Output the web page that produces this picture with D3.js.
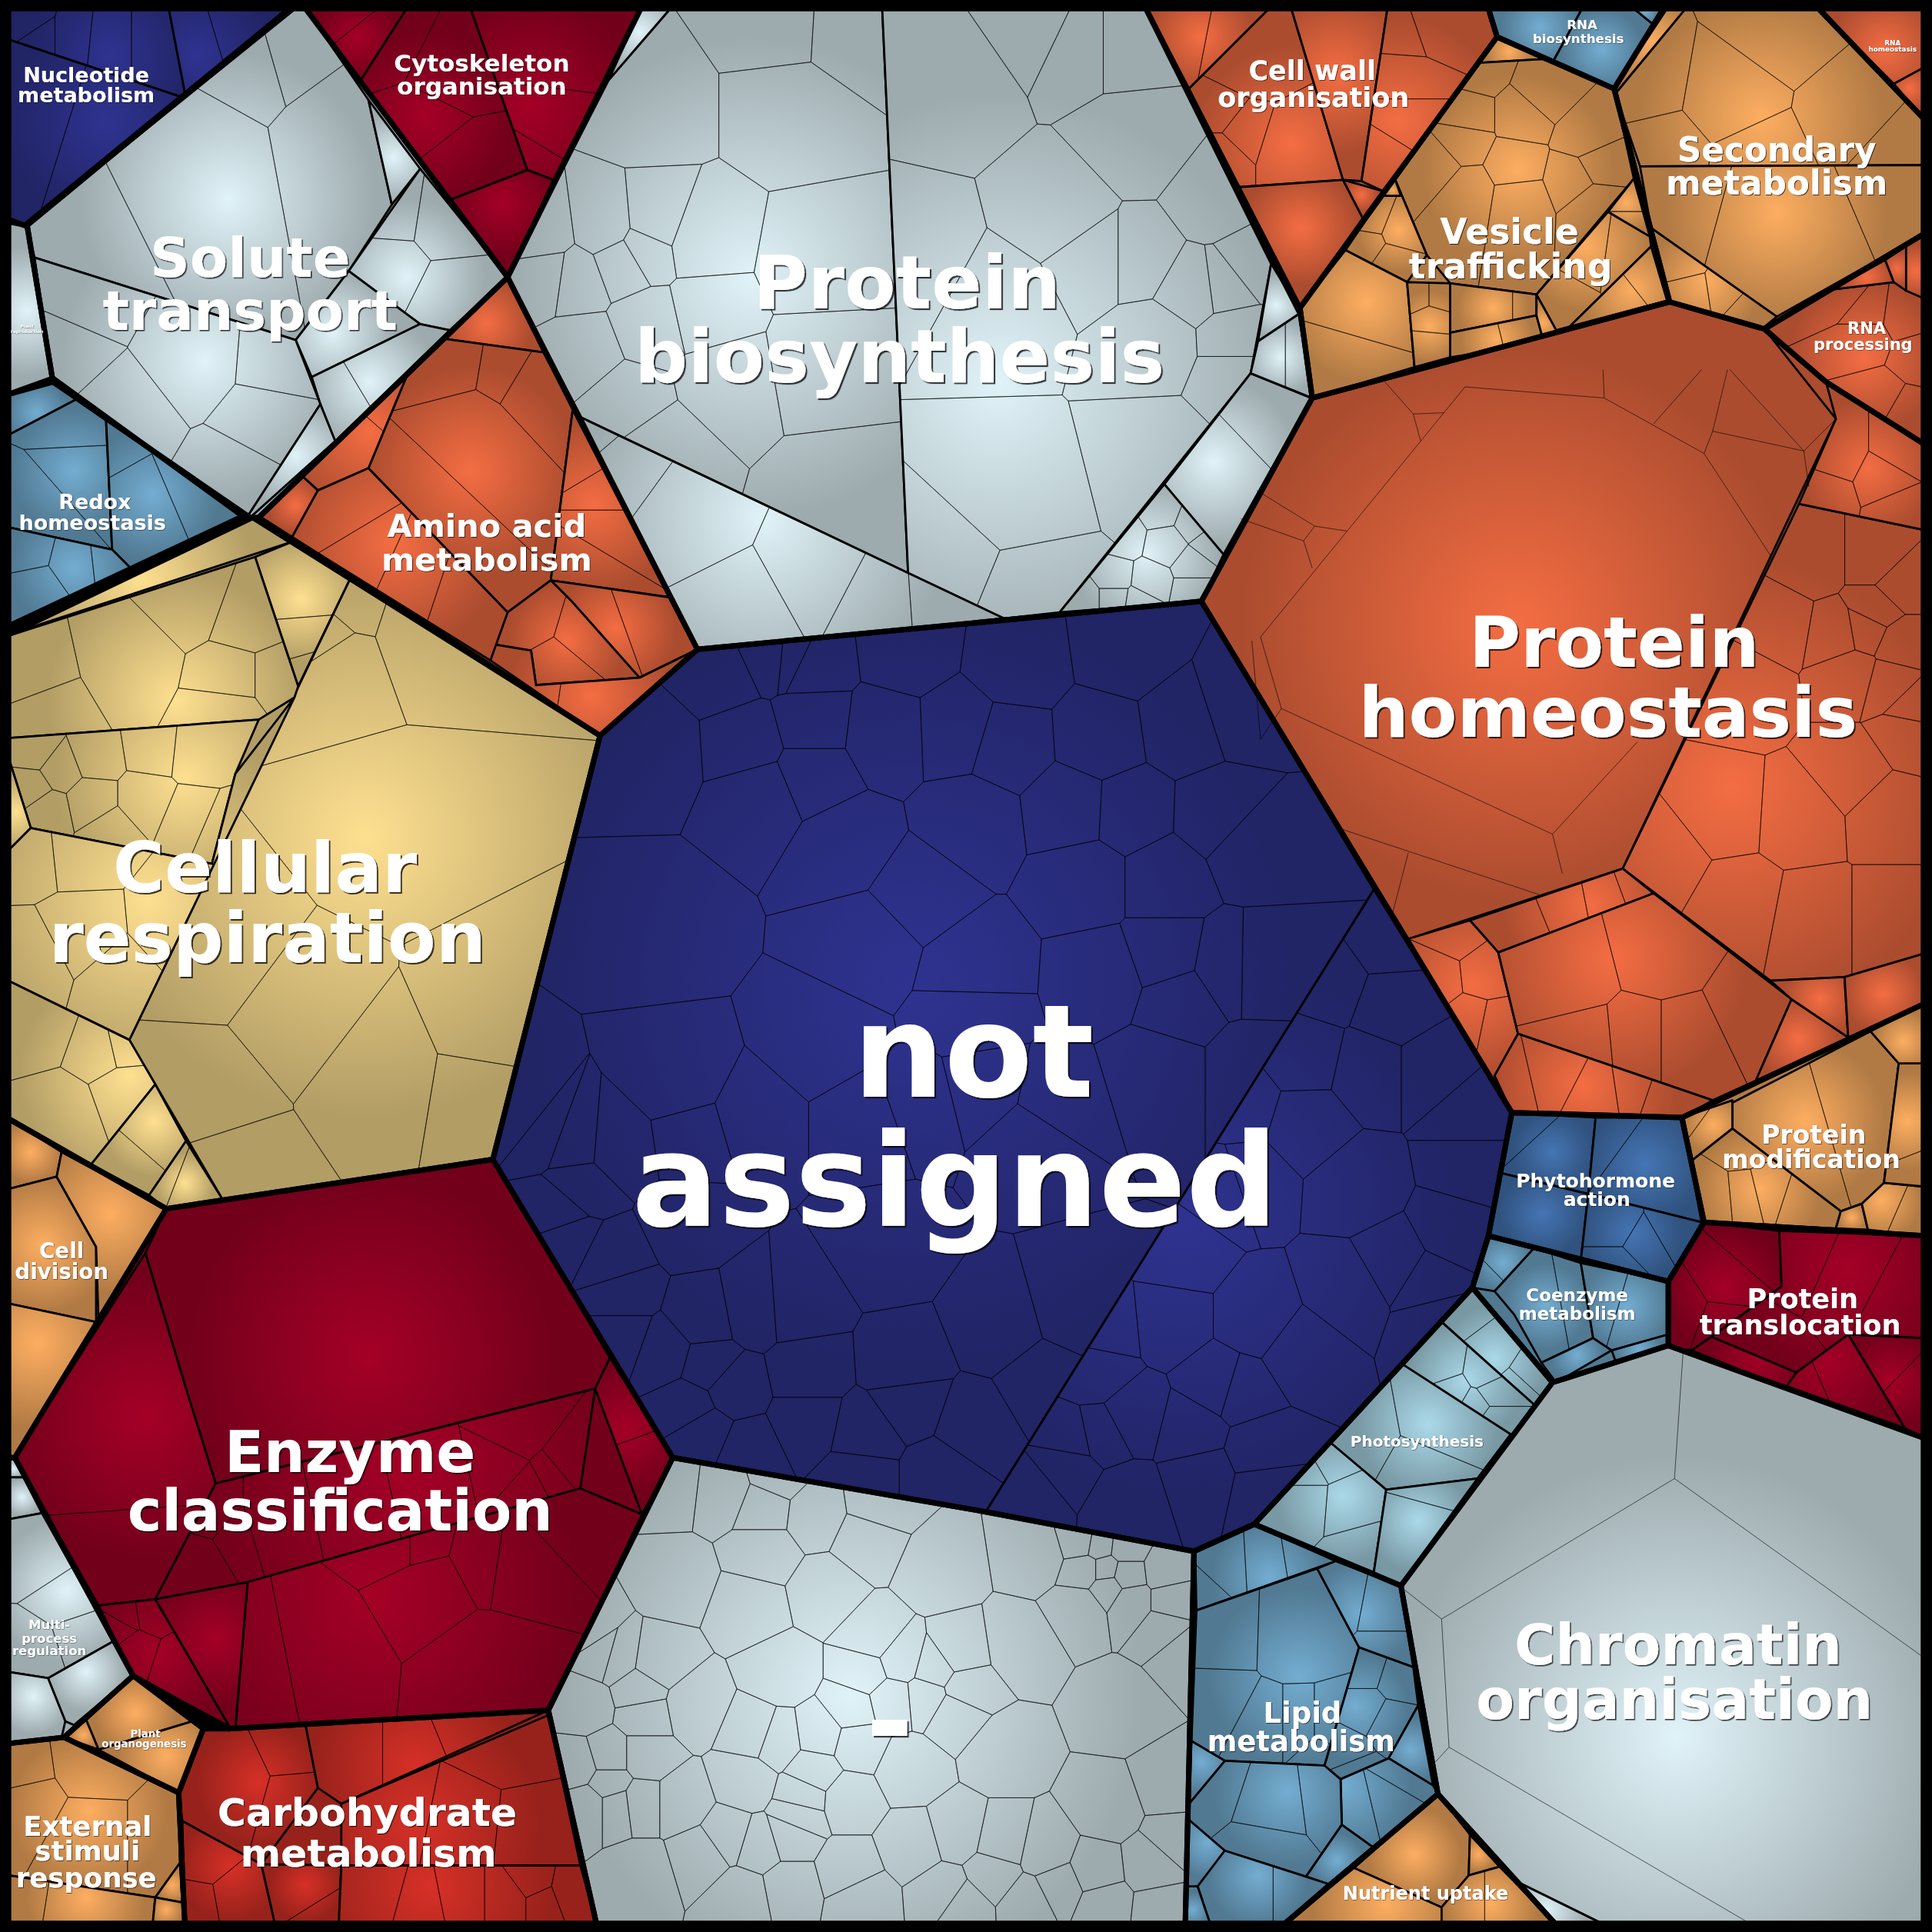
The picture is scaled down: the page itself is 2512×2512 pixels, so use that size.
<!DOCTYPE html>
<html><head><meta charset="utf-8"><title>Voronoi treemap</title>
<script src="https://cdn.jsdelivr.net/npm/d3@7/dist/d3.min.js"></script>
<style>html,body{margin:0;padding:0;background:#fff}svg{display:block}</style></head>
<body><div id="chart"></div>
<script>
// ---------- categories ----------
const categories = ["not assigned","Protein biosynthesis","Protein homeostasis","Cellular respiration","Enzyme classification","Carbohydrate metabolism","Amino acid metabolism","Cytoskeleton organisation","Solute transport","Plant reproduction","Nucleotide metabolism","Redox homeostasis","Cell division","Multi-process regulation","Plant organogenesis","External stimuli response","-","Lipid metabolism","Nutrient uptake","Chromatin organisation","Photosynthesis","Coenzyme metabolism","Phytohormone action","Protein modification","Protein translocation","Vesicle trafficking","Secondary metabolism","Cell wall organisation","RNA biosynthesis","RNA homeostasis","RNA processing"];
const tones = ["#a50026","#d73027","#f46d43","#fdae61","#fee090","#e0f3f8","#abd9e9","#74add1","#4575b4","#2f3390"];
const toneOf = [9,5,2,4,0,1,2,0,5,5,9,7,3,5,3,3,5,7,3,5,6,7,8,3,0,3,3,2,7,2,2];
// top level outlines
const outlines = [
[566,527,975,488,1227,903,1208,1003,1195,1045,1018,1237,969,1259,800,1227,546,1183,400,941,487,597],
[520,7,930,7,1032,212,1055,250,1065,323,975,488,566,527,470,340,412,225],
[1065,323,1355,245,1432,267,1482,310,1561,360,1561,815,1365,907,1227,903,975,488],
[7,515,205,420,487,597,400,941,135,981,7,908],
[135,981,400,941,546,1183,445,1388,185,1403,108,1360,12,1183],
[165,1403,185,1403,445,1388,484,1561,150,1561,145,1455],
[412,225,566,527,487,597,210,420],
[248,7,520,7,412,225],
[235,7,248,7,412,225,210,420,203,420,43,310,22,183],
[7,180,22,183,43,310,7,320],
[7,7,235,7,20,183,7,178],
[7,320,43,307,197,419,7,508],
[7,908,135,981,12,1183,7,1183],
[7,1183,12,1183,108,1360,52,1410,7,1415],
[108,1360,165,1403,145,1455,52,1410],
[7,1415,52,1410,145,1455,150,1561,7,1561],
[546,1183,800,1227,969,1259,962,1561,484,1561,445,1388],
[969,1259,1018,1237,1137,1287,1167,1456,1043,1561,962,1561],
[1167,1456,1262,1561,1043,1561],
[1137,1287,1260,1122,1354,1092,1561,1167,1561,1561,1262,1561,1167,1456],
[1018,1237,1195,1045,1260,1122,1137,1287],
[1208,1003,1354,1040,1354,1092,1260,1122,1195,1045],
[1227,903,1365,907,1383,992,1354,1040,1208,1003],
[1365,907,1561,815,1561,1003,1383,992],
[1383,992,1561,1003,1561,1167,1354,1092,1354,1040],
[1215,30,1310,72,1355,245,1065,323,1055,250],
[1350,7,1476,7,1561,96,1561,190,1432,267,1355,245,1310,72],
[930,7,1208,7,1215,30,1055,250],
[1208,7,1350,7,1310,72,1215,30],
[1476,7,1561,7,1561,96],
[1432,267,1561,190,1561,360,1482,310]
];
// second level regions: [category, outline, glow centre (optional)]
const regions = [
[0,[566,527,975,488,1115,722,800,1227,546,1183,400,941,487,597],[740,800]],
[0,[1115,722,1227,903,1208,1003,1195,1045,1018,1237,969,1259,800,1227],[960,990]],
[1,[494,65,544,7,716,7,737,465,472,339,412,225],[610,225]],
[1,[716,7,930,7,1032,212,1015,303,860,497,815,502,737,465],[810,310]],
[1,[520,7,544,7,494,65]],
[1,[472,339,737,465,815,502,566,527],[620,420]],
[1,[1015,303,1064,323,993,450,945,393],[985,375]],
[1,[945,393,993,450,975,488,860,497],[930,450]],
[1,[1032,212,1054,255,1021,277]],
[1,[1021,277,1054,255,1065,323,1015,303],[1040,290]],
[2,[1065,323,1355,245,1432,267,1490,340,1317,705,1143,762,975,488],[1232,507]],
[2,[1460,409,1561,430,1561,774,1497,793,1437,796,1317,705],[1406,638]],
[2,[1490,340,1482,310,1561,360,1561,430,1460,409]],
[2,[1193,747,1317,705,1342,725,1216,773],[1290,735]],
[2,[1143,762,1193,747,1216,773,1232,839,1213,873,1227,903],[1195,800]],
[2,[1216,773,1342,725,1454,811,1425,877,1390,893,1232,839],[1309,778]],
[2,[1213,873,1232,839,1390,893,1365,907,1227,903]],
[2,[1454,811,1500,842,1425,877]],
[2,[1437,796,1497,793,1500,842,1454,811]],
[2,[1497,793,1561,774,1561,815,1500,842]],
[3,[284,470,487,597,400,941,181,974,105,844],[296,679]],
[3,[7,515,205,420,239,439],[115,470]],
[3,[207,452,239,439,284,470,242,557]],
[3,[7,516,207,452,242,557,239,566,210,584,7,599],[143,569]],
[3,[7,599,210,584,191,628,172,701,25,672,7,615],[150,632]],
[3,[7,615,25,672,7,690]],
[3,[7,690,25,672,172,701,191,628,239,566,105,844,7,796],[120,730]],
[3,[7,796,105,844,126,880,74,945,7,908],[105,873]],
[3,[126,880,151,926,121,970,74,945],[125,910]],
[3,[151,926,181,974,135,981,121,970]],
[4,[135,981,400,941,495,1102,483,1127,175,1204,150,1124,118,1017],[300,1100]],
[4,[118,1017,150,1124,175,1204,126,1298,80,1303,12,1183],[118,1150]],
[4,[175,1204,483,1127,471,1208,201,1284,126,1298],[330,1190]],
[4,[201,1284,471,1208,521,1229,445,1388,191,1403],[305,1296]],
[4,[126,1298,201,1284,191,1403,186,1401],[175,1330]],
[4,[80,1303,126,1298,186,1401,108,1360]],
[4,[495,1102,546,1183,521,1229,483,1127],[508,1160]],
[5,[165,1403,248,1400,258,1451,212,1513,148,1478,145,1455],[210,1447]],
[5,[248,1400,445,1388,277,1464,258,1451],[338,1435]],
[5,[445,1392,471,1514,277,1514,277,1464],[340,1480]],
[5,[212,1513,277,1514,275,1561,223,1561],[248,1530]],
[5,[148,1478,212,1513,223,1561,150,1561],[188,1515]],
[5,[277,1514,471,1514,484,1561,275,1561],[350,1530]],
[6,[361,275,412,225,441,286],[395,262]],
[6,[331,303,361,275,441,286,465,331,447,471,412,497,299,380],[382,382]],
[6,[465,331,545,485,447,471],[482,410]],
[6,[447,471,545,485,566,527,519,550,463,487],[500,510]],
[6,[412,497,447,471,463,487,519,550,435,556,431,528,401,523],[460,520]],
[6,[398,536,401,523,431,528,435,556,519,550,566,527,487,597],[480,565]],
[6,[361,275,331,303,299,380,258,398,246,387],[300,350]],
[6,[246,387,258,398,237,436,210,420],[240,410]],
[6,[258,398,299,380,412,497,398,536,237,436],[320,440]],
[7,[248,7,330,7,291,68],[290,30]],
[7,[330,7,382,7,428,138,366,162,291,68],[345,95]],
[7,[382,7,520,7,449,146,428,138],[430,85]],
[7,[366,162,428,138,449,146,412,225],[408,165]],
[8,[22,183,240,7,248,7,299,81,318,166,283,220,240,276,28,209],[185,162]],
[8,[299,81,341,137,318,166]],
[8,[341,137,412,225,365,268,341,263,283,220],[330,225]],
[8,[283,220,341,263,253,306,240,276],[270,270]],
[8,[341,263,365,268,272,358,260,328,253,306],[300,310]],
[8,[28,209,240,276,260,328,201,419,43,310],[166,293]],
[8,[260,328,272,358,203,420,201,419],[240,370]],
[9,[7,180,22,183,43,310,7,320],[22,252]],
[10,[7,7,137,7,151,80,7,32],[90,45]],
[10,[137,7,235,7,151,80],[160,45]],
[10,[7,32,151,80,20,183,7,178],[86,99]],
[11,[7,320,43,307,64,323,7,353],[30,335]],
[11,[7,353,64,323,86,339,91,446,7,428],[60,382]],
[11,[86,339,197,419,107,462,91,446],[124,401]],
[11,[7,428,91,446,107,462,7,508],[60,461]],
[12,[7,908,50,935,46,955,7,965],[25,935]],
[12,[7,965,46,955,78,1012,78,1073,7,1058],[35,1010]],
[12,[50,935,135,981,80,1073,78,1012,46,955],[90,985]],
[12,[7,1058,78,1073,12,1183,7,1183],[30,1090]],
[13,[7,1183,12,1183,19,1199,7,1199]],
[13,[7,1199,19,1199,34,1228,7,1233],[18,1215]],
[13,[7,1233,34,1228,92,1332,39,1362,7,1357],[54,1291]],
[13,[39,1362,92,1332,108,1360,60,1400,53,1397],[70,1357]],
[13,[7,1357,39,1362,53,1397,50,1410,7,1415],[27,1377]],
[14,[108,1360,156,1397,80,1420,70,1396],[110,1390]],
[14,[156,1397,165,1403,145,1455,80,1420],[135,1425]],
[14,[70,1396,80,1420,52,1410],[68,1408]],
[15,[7,1415,52,1410,145,1455,146,1512,126,1540,7,1522],[72,1470]],
[15,[146,1512,148,1544,126,1540],[140,1530]],
[15,[7,1522,126,1540,124,1561,7,1561],[70,1540]],
[15,[126,1540,148,1544,150,1561,124,1561],[135,1550]],
[16,[546,1183,800,1227,969,1259,962,1561,484,1561,445,1388],[690,1375]],
[17,[970,1258,1017,1237,1084,1267,971,1307],[1030,1280]],
[17,[971,1307,1069,1273,1103,1337,1075,1433,994,1429,967,1413],[1054,1361]],
[17,[1069,1273,1084,1267,1136,1287,1147,1353,1103,1337],[1105,1310]],
[17,[1103,1337,1147,1353,1151,1384,1127,1427,1088,1444,1075,1433],[1100,1385]],
[17,[1151,1384,1163,1449,1127,1427],[1145,1420]],
[17,[1127,1427,1163,1449,1167,1456,1114,1499,1089,1481,1088,1444],[1090,1450]],
[17,[994,1429,1075,1433,1088,1444,1089,1481,1060,1523,994,1502,965,1477,965,1464],[1045,1454]],
[17,[967,1413,994,1429,965,1464],[975,1430]],
[17,[1089,1481,1114,1499,1078,1529,1060,1523],[1085,1510]],
[17,[965,1477,994,1502,972,1531,963,1532],[980,1495]],
[17,[994,1502,1078,1529,1041,1561,982,1561,972,1531],[1021,1522]],
[17,[963,1531,972,1531,982,1561,961,1561],[968,1550]],
[18,[1167,1456,1193,1489,1192,1522,1170,1548,1099,1516],[1148,1505]],
[18,[1193,1489,1217,1515,1192,1522],[1200,1505]],
[18,[1099,1516,1170,1548,1170,1561,1043,1561],[1125,1545]],
[18,[1192,1522,1217,1515,1262,1561,1170,1561,1170,1548],[1210,1545]],
[19,[1137,1287,1260,1122,1354,1092,1561,1167,1561,1561,1300,1561,1233,1528,1167,1456],[1360,1410]],
[19,[1233,1528,1300,1561,1262,1561],[1255,1550]],
[20,[1195,1045,1260,1122,1245,1140,1169,1072],[1213,1103]],
[20,[1169,1072,1245,1140,1226,1175,1138,1107],[1190,1120]],
[20,[1138,1107,1226,1164,1199,1200,1125,1209,1080,1171],[1159,1156]],
[20,[1080,1171,1125,1209,1115,1276,1018,1237],[1090,1214]],
[20,[1125,1209,1199,1200,1136,1287,1115,1276],[1151,1234]],
[21,[1208,1003,1245,1013,1213,1048,1195,1045],[1220,1025]],
[21,[1245,1013,1283,1025,1293,1086,1251,1106,1229,1067,1213,1048],[1255,1060]],
[21,[1283,1025,1354,1040,1354,1083,1308,1096,1293,1086],[1320,1060]],
[21,[1251,1106,1293,1086,1308,1096,1263,1122],[1280,1100]],
[21,[1308,1096,1354,1083,1354,1092,1312,1107],[1330,1095]],
[22,[1227,903,1295,907,1289,969,1218,952],[1260,935]],
[22,[1295,907,1365,907,1381,992,1289,969],[1335,945]],
[22,[1218,952,1289,969,1283,1023,1208,1003],[1252,985]],
[22,[1289,969,1381,992,1354,1040,1283,1023],[1325,1000]],
[23,[1406,895,1518,837,1541,863,1529,960,1511,977,1494,983,1406,916],[1465,910]],
[23,[1365,907,1406,893,1406,916,1373,942],[1391,913]],
[23,[1373,942,1406,916,1494,983,1490,997,1383,992],[1428,965]],
[23,[1494,983,1511,977,1516,998,1490,997],[1503,988]],
[23,[1511,977,1529,960,1561,963,1561,1003,1516,998],[1527,974]],
[23,[1541,863,1561,863,1561,963,1529,960],[1548,910]],
[23,[1518,837,1561,815,1561,863,1541,863],[1545,845]],
[24,[1383,992,1444,999,1446,1044,1373,1096,1354,1093,1354,1040],[1400,1045]],
[24,[1444,999,1561,1003,1561,1086,1500,1083,1458,1114,1389,1085,1446,1044],[1500,1030]],
[24,[1373,1096,1389,1085,1458,1114,1450,1127],[1427,1100]],
[24,[1458,1114,1500,1083,1546,1159,1450,1125],[1484,1105]],
[24,[1500,1083,1561,1086,1561,1167,1546,1159],[1535,1120]],
[25,[1215,29,1252,48,1201,51],[1225,42]],
[25,[1201,51,1252,48,1310,72,1326,145,1247,239,1177,230,1158,207,1132,145],[1232,138]],
[25,[1132,145,1158,207,1142,229,1092,203,1122,159,1137,159],[1135,187]],
[25,[1122,159,1137,159,1132,145]],
[25,[1326,145,1339,192,1305,172],[1320,165]],
[25,[1305,172,1339,192,1340,200,1274,265,1263,268,1247,239],[1287,200]],
[25,[1340,200,1353,244,1274,265],[1325,235]],
[25,[1092,203,1142,229,1148,298,1065,323,1055,250],[1109,245]],
[25,[1142,229,1177,230,1177,290,1148,298],[1160,265]],
[25,[1177,230,1247,239,1247,256,1177,270],[1212,250]],
[25,[1177,270,1247,256,1253,278,1177,290],[1215,275]],
[25,[1247,239,1263,268,1253,278,1247,256],[1252,262]],
[26,[1368,7,1476,7,1561,96,1561,134,1331,135,1311,76],[1429,96]],
[26,[1331,135,1561,134,1561,190,1442,257,1340,185],[1442,172]],
[26,[1353,7,1368,7,1311,76,1310,72]],
[26,[1340,185,1442,257,1431,266,1353,244],[1385,228]],
[27,[930,7,1030,7,965,72],[975,30]],
[27,[1030,7,1048,7,1090,146,1004,152,965,72],[1048,116]],
[27,[1048,7,1126,7,1105,147,1090,146],[1085,60]],
[27,[1126,7,1208,7,1215,30,1122,155,1105,147],[1135,98]],
[27,[1004,152,1090,146,1106,177,1055,250],[1056,185]],
[27,[1090,146,1122,155,1106,177],[1105,158]],
[28,[1208,7,1284,7,1261,49,1215,30],[1250,22]],
[28,[1284,7,1326,7,1342,20,1310,72,1261,49],[1300,40]],
[28,[1326,7,1350,7,1342,20],[1335,10]],
[29,[1476,7,1561,7,1561,55,1537,68],[1530,40]],
[29,[1537,68,1561,55,1561,96],[1550,72]],
[30,[1431,266,1487,235,1537,229,1561,242,1561,360,1482,310],[1513,290]],
[30,[1487,235,1530,211,1537,229],[1515,225]],
[30,[1530,211,1547,200,1547,236,1537,229],[1540,218]],
[30,[1547,200,1561,190,1561,242,1547,236],[1555,220]]
];
// cuts of single large leaves where seeds alone can't place the edge
const thinEdges = [
[1137,1288,1170,1314,1176,1418,1165,1430],[1170,1314,1359,1200,1366,1097],[1359,1200,1561,1345],[1176,1418,1420,1561],
[1189,314,1302,323,1383,368,1437,451],[1189,314,1023,517,1040,575,1260,677,1329,602],[1040,575,1023,600,1016,520],[1089,673,1249,726],[1260,677,1268,709],
[1124,310,1147,336,1172,335],[1147,336,1153,358],[1020,398,1067,427,1093,431],[1007,421,1058,439,1065,461],[1067,427,1058,439],
[1402,300,1390,350,1383,368],[1390,350,1464,366,1490,340],[1464,366,1404,300],[1342,344,1381,300],[1464,366,1468,395],[1302,323,1301,300],[1143,692,1130,742]
];
// crops the seeds were read from [x, y, w, h] of the 2512 picture, each shown on a 1568 square
const crops = [[1000,1000,700,700],[1700,0,812,560],[0,0,800,800],[0,1800,800,712],[1550,1400,962,700],[640,0,1100,860],[1540,480,972,1000],[0,660,800,920],[640,780,1000,600],[640,1380,1000,640],[700,1880,900,632],[1500,1980,560,532]];
// third level: a seed for every leaf cell [crop, x,y,x,y,...]
const leafSeeds = [
[8,[470,250,520,480,645,210,650,420,845,170,1070,220,1290,170,800,450,1240,470,720,830,980,750,1050,490,950,440,1410,430,1520,370,650,590,550,660,340,1100,1180,710,1300,720,1480,730,1210,950,770,1160,870,1000,980,1250,1370,950,1370,1210,1250,1280,1500,1250,1400,1360,330,500,560,180,620,190]],
[0,[590,720,1130,880,1400,220,1420,580,150,800,1410,880]],
[9,[380,70,100,230,170,270,60,180,250,280,410,245,180,390,530,190,760,190,870,130,1000,80,1150,130,1100,250,400,520,800,600,1030,850,640,990,840,970,1190,780,430,820,530,790,620,780,240,640,150,570,130,480,260,740,350,930,260,880,440,970,490,1040,400,1100,760,1190,980,1160,850,1090,1120,1030,910,1320,750,1320,580,1320,520,1240,640,1150,430,1180]],
[9,[1500,400,1400,620,1380,820,1250,840,1230,1000,1430,1180,1300,1130,1180,1200,1170,1290,1100,1380,1290,1400,1450,1320,1240,1180,1520,1050,1560,820]],
[6,[430,1160,440,1300,300,1250,250,1400,520,1430,390,1430,120,1500,600,1520]],
[4,[350,320,590,260,240,140,120,300,550,450,230,800,520,710,240,1150,150,1200,500,600,430,540,330,620,60,900,140,1090]],
[10,[300,130,420,150,510,200,625,220,745,300,770,190,905,400,1135,350,310,430,510,340,480,520,650,470,1230,310,1270,320,1330,330,1240,400,1285,400,1330,415,1290,455,1420,400,1340,500,1435,500,1420,590,1230,520,1090,640,1320,840,1460,660,740,730,820,690,760,620,900,720,965,780,800,820,880,810,940,860,710,850,550,730,640,930,720,960,840,1040,1050,990,950,670,540,950,490,925,625,1050,470,1080,600,1130,700,1140,590,1190,350,840,105,840,240,1000,230,790,240,870,150,670,270,700,175,680,160,1000,160,1090,90,1030,115,1160,175,1160,230,1150,320,1150,230,1380,430,1260,370,1320,500,1290,570,1260,700,1370,850,1290,950,1250,1050,1280,1150,1310,1290,1170,1260,1370,1390,1350,1030,1380,920,1440,460,1450,570,1420,730,1460,1110,1470,1180,1420,1280,1480,1410,1500,960,1480,1430,1100,1440,1270]],
[5,[550,260,290,260,530,50,660,60,90,560,210,540,300,530,385,570,100,650,155,660,240,620,280,590,290,770,170,830,395,740,600,620,610,860,430,900,250,950,640,1180,310,1060]],
[5,[850,200,1020,50,1085,90,1180,90,1200,340,1340,480,1060,510,1115,610,1205,610,1300,680,1360,670,1400,630,1380,800,1230,810,950,720,780,600,960,1160,1240,1070,1380,890,830,1340,1000,1430]],
[5,[190,1030,230,1090,370,1220,600,1350,460,1450,720,1430,830,1420,1300,1150,1240,1210,1170,1270,1250,1290,1300,1240,1150,1370,1220,1380,1300,1340,1330,1290,1340,1360,1100,1420,1150,1420,1200,1430,1300,1400,1460,740,1450,850,1490,850,1480,930]],
[6,[1320,390,1250,520,1180,650,1450,390,1450,490,1370,540,1430,530,1500,440,1500,560,1480,640,1530,690,1400,620,1520,740,1400,820,1290,910,1480,900,1130,900,1160,1090,1320,1120,1480,1120,1000,1000,1470,220,1370,170,1500,170,1340,260,1500,290,800,1230,1000,1180,1050,1380,1200,1310,840,1390,950,1380,700,1130,800,1090,880,1075,950,1050,570,1150,630,1230,530,1240,650,1340,600,1330,680,1450,770,1430,870,1480,1000,1490,940,1470]],
[7,[1000,690,960,1270,530,1290,1270,1150,1240,1310,750,1130,550,1000,600,1480,900,230,1040,270,850,280,880,320,330,330,70,380,100,450,640,250,480,200,600,380,700,380,590,450,740,190,750,300,770,360,90,540,240,550,390,530,500,540,150,580,80,620,230,650,370,650,480,690,280,720,120,670,80,760,190,750,90,1000,200,950,300,1050,450,930,560,720,640,520,660,490,100,1150,260,1200,160,1340,320,1290,310,1190,360,1370,300,1430,480,1500,420,1480]],
[3,[820,760,1230,800,1090,580,1300,500,1240,490,1500,700,640,800,540,400,700,400,520,480,900,350,1100,300,1300,250,1420,220,1500,170,580,440,1030,440,1060,440,300,200,320,520,320,660,380,650,450,800,300,700,510,940,340,760]],
[3,[600,1130,750,1050,760,1180,890,1060,1060,1060,1300,1000,1190,1000,1180,1280,1000,1240,1350,1300,520,1360,600,1470,500,1490,780,1440,830,1530,950,1460,1080,1500,1170,1480,1380,1480,1300,1480,1450,1450,1360,1430,220,1300,60,1200,430,1300,230,1070,40,1100,200,1510,30,1480,420,1500,170,620,100,500,90,760,200,720,340,960,420,1060,210,1000]],
[9,[70,1200,120,1290,250,1150,60,1340,150,1420,250,1340,280,1280]],
[2,[1200,1100,1150,905,1300,930,1420,950,1350,960,880,1300,1040,1270,1050,1450,1200,1500,940,1400,1470,1200,1500,1350,1500,1250,1470,1400,990,1040,920,1120]],
[8,[90,80,170,120,130,200,250,130,200,300,50,270,300,100,30,250,80,270]],
[2,[80,60,180,90,280,100,390,100,100,90,250,350,90,300,500,110,600,80,650,130,170,1190,90,1260,165,1090,390,1260,300,1100,190,1430,90,1500,70,1400,280,1420,500,400,880,330,720,110,120,590,1130,560,990,680,1150,760,1000,540,820,880,970,910,820,1000,480,900,230,760,170,900,300,1040,460,1230,620,1230,730,920,700,1080,1000,120,1120,180,1170,440,1060,300,1430,100,1400,350,1370,400,930,110,870,35]],
[1,[100,300,230,300,230,420,240,100,170,560,300,70,590,340,430,250,400,420,540,420,700,500,390,510,320,600,520,600,670,650,400,700,530,730,730,600,720,740,700,900,620,1110,800,920,850,1000,780,1080,230,840,150,890,210,950,160,800,150,1100,100,1350,310,1170,305,1250,280,1070,330,1070,460,1110,570,1110,430,1240,540,1200,790,740,790,800,1050,350,1130,600,1380,430,1470,550,890,550,850,300,1180,90,1200,830,870,700,1520,630,940,950,1050,1050,960,1070,1110,1130,1400,1130,1500,1150,1530,1300,1440,1450,1500,1500,1350,1070,1400,1230]],
[5,[1280,100,1360,120,1480,350,1380,310,1350,350,1350,280,1400,150]],
[11,[250,180,420,170,540,150,180,260,230,420,530,430,220,700,400,800,540,800,600,870,680,320,830,350,830,480,770,560,890,600,770,710,860,760,630,800,690,880,850,1050,730,1080,900,960,720,960,430,1080,650,1050,200,1000,400,1260,340,1400,530,1400,640,1270,950,1270,820,1450,1260,1450,1150,1450]],
[4,[630,800,700,910,570,690,720,880,530,840,620,860,640,920,550,920,600,960,640,1000,500,1020,380,1050,470,1120,330,1240,240,1230,290,1110,360,1390,480,1290,500,1190,760,220,700,130,950,260,860,170,740,400,900,560,960,480,900,430,1010,440,740,660,820,640,700,770,650,540,620,580,930,670,880,650,820,810,1290,260,1170,200,1440,200,1210,330,1180,340,1300,370,1100,350,1470,370,1520,400,1500,200,1520,270,1090,150,1060,120,1130,600,1200,490,1040,680,1120,720,1390,580,1290,520,1500,660,1180,800,1350,850,1440,830,1300,880,1530,950]]
];
// labels: [font size, [text, centre x, baseline], ...]
const labels = [
[167,["not",790,890],["assigned",775,995]],
[97,["Protein",736,250],["biosynthesis",730,310]],
[91.5,["Protein",1310,541],["homeostasis",1305,598]],
[91.5,["Cellular",215,724],["respiration",217,781]],
[75,["Enzyme",284,1195],["classification",276,1242]],
[72.5,["Chromatin",1362,1351],["organisation",1359,1395]],
[72,["Solute",203,225],["transport",203,268]],
[50.5,["Carbohydrate",298,1482],["metabolism",299,1515]],
[41.5,["Amino acid",395,436],["metabolism",395,463]],
[43.7,["Secondary",1442,131],["metabolism",1442,158]],
[45.7,["Vesicle",1225,198],["trafficking",1226,226]],
[31,["Cytoskeleton",391,58],["organisation",391,77]],
[35,["Cell wall",1065,65],["organisation",1066,87]],
[27,["Nucleotide",70,67],["metabolism",70,83]],
[27,["Redox",77,413],["homeostasis",75,430]],
[37,["Lipid",1057,1398],["metabolism",1056,1421]],
[35.5,["External",71,1490],["stimuli",71,1510],["response",70,1532]],
[35,["Protein",1463,1062],["translocation",1461,1083]],
[33,["Protein",1472,928],["modification",1470,948]],
[27.7,["Cell",50,1021],["division",50,1038]],
[25,["Phytohormone",1295,964],["action",1296,979]],
[23,["Coenzyme",1280,1056],["metabolism",1280,1071]],
[20,["Photosynthesis",1150,1174]],
[24,["Nutrient uptake",1157,1542]],
[16.7,["RNA",1284,24],["biosynthesis",1281,35]],
[21,["RNA",1515,271],["processing",1512,284]],
[8.8,["RNA",1536,37],["homeostasis",1536,42]],
[16.5,["Multi-",40,1322],["process",40,1333],["regulation",40,1343]],
[13.3,["Plant",118,1410],["organogenesis",117,1418]],
[5.8,["Plant",22,266],["reproduction",22,270]],
[148,["-",722,1429]]
];

// ---------- drawing ----------
const SIZE = 2512, UNITS = 1568;
const x = d3.scaleLinear().domain([0,UNITS]).range([0,SIZE]);
const y = d3.scaleLinear().domain([0,UNITS]).range([0,SIZE]);
const pairs = a => d3.range(0,a.length,2).map(i=>[a[i],a[i+1]]);
const line = d3.line().x(d=>x(d[0])).y(d=>y(d[1]));
const closed = pts => line(pts)+"Z";
const seedPts = leafSeeds.flatMap(([c,a])=>{
  const [cx,cy,cw,ch]=crops[c];
  return pairs(a).map(([zx,zy])=>[x.invert(cx+zx*cw/UNITS), y.invert(cy+zy*ch/UNITS)]);
});
const svg = d3.select("#chart").append("svg").attr("width",SIZE).attr("height",SIZE).attr("viewBox",[0,0,SIZE,SIZE]);
const defs = svg.append("defs");
svg.append("rect").attr("width",SIZE).attr("height",SIZE).attr("fill","#000");
const dim = c => {const r=d3.rgb(c);return d3.rgb(r.r*.7,r.g*.7,r.b*.7).formatHex();};
const tone = i => tones[toneOf[i]];

const cats = svg.append("g");
categories.forEach((name,i)=>{
  const pts = pairs(outlines[i]);
  defs.append("clipPath").attr("id","cat"+i).append("path").attr("d",closed(pts));
  const g = cats.append("g").attr("clip-path",`url(#cat${i})`).attr("data-name",name);
  g.append("path").attr("d",closed(pts)).attr("fill",dim(tone(i)));
});
const catGroups = cats.selectAll("g").nodes();
regions.forEach((r,k)=>{
  const [c,flat,glow] = r, pts = pairs(flat);
  const centre = glow || d3.polygonCentroid(pts);
  const rad = d3.max(pts,p=>Math.hypot(p[0]-centre[0],p[1]-centre[1]));
  const col = tone(c);
  const grad = defs.append("radialGradient").attr("id","gr"+k).attr("gradientUnits","userSpaceOnUse")
    .attr("cx",x(centre[0])).attr("cy",y(centre[1])).attr("r",x(rad));
  grad.append("stop").attr("offset",0).attr("stop-color",col);
  grad.append("stop").attr("offset",.72).attr("stop-color",dim(col));
  grad.append("stop").attr("offset",1).attr("stop-color",dim(col));
  defs.append("clipPath").attr("id","rg"+k).append("path").attr("d",closed(pts));
  const g = d3.select(catGroups[c]).append("g");
  g.append("path").attr("d",closed(pts)).attr("fill",`url(#gr${k})`);
  const inside = seedPts.filter(s=>d3.polygonContains(pts,s));
  if(inside.length>1){
    const vor = d3.Delaunay.from(inside,d=>x(d[0]),d=>y(d[1])).voronoi([0,0,SIZE,SIZE]);
    g.append("g").attr("clip-path",`url(#rg${k})`).selectAll("path").data(inside).join("path")
      .attr("d",(d,i)=>vor.renderCell(i)).attr("fill","none").attr("stroke","#000").attr("stroke-opacity",.6).attr("stroke-width",1);
  }
  g.append("path").attr("d",closed(pts)).attr("fill","none").attr("stroke","#000").attr("stroke-width",2.8).attr("stroke-linejoin","round");
});
cats.append("g").selectAll("path").data(thinEdges).join("path")
  .attr("d",d=>line(pairs(d))).attr("fill","none").attr("stroke","#000").attr("stroke-opacity",.6).attr("stroke-width",1);
svg.append("g").selectAll("path").data(outlines).join("path")
  .attr("d",d=>closed(pairs(d))).attr("fill","none").attr("stroke","#000").attr("stroke-width",7).attr("stroke-linejoin","round");
svg.append("rect").attr("x",x(3.5)).attr("y",y(3.5)).attr("width",x(UNITS-7)).attr("height",y(UNITS-7)).attr("fill","none").attr("stroke","#000").attr("stroke-width",11);

const txt = svg.append("g").attr("font-family","'DejaVu Sans'").attr("font-weight",700).attr("fill","#fff").attr("text-anchor","middle");
labels.forEach((l,i)=>{
  const [fs,...lines]=l, off=Math.max(.5,Math.min(2.2,fs*.022));
  const f=defs.append("filter").attr("id","sh"+i).attr("x","-10%").attr("y","-10%").attr("width","120%").attr("height","130%");
  f.append("feDropShadow").attr("dx",off).attr("dy",off).attr("stdDeviation",off*.35).attr("flood-color","#000").attr("flood-opacity",.75);
  const g=txt.append("g").attr("filter",`url(#sh${i})`).attr("font-size",fs);
  lines.forEach(([t,cx,b])=>g.append("text").attr("x",x(cx)).attr("y",y(b)).text(t));
});
</script></body></html>
